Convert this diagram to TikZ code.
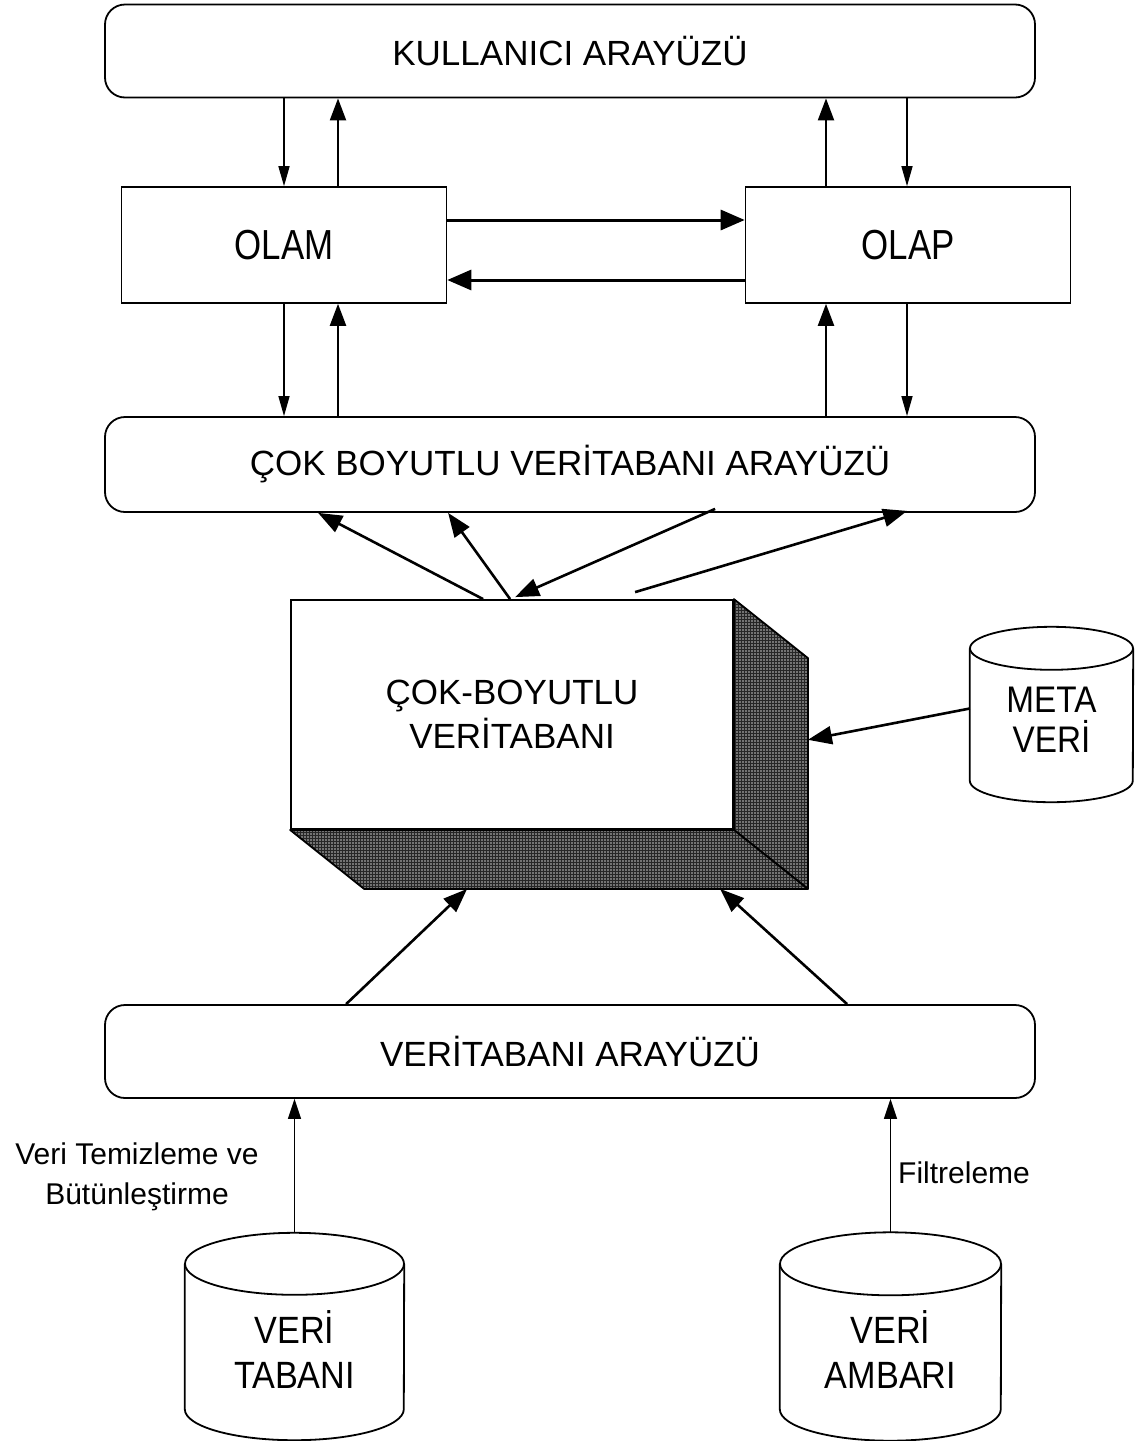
\documentclass[tikz,border=0pt]{standalone}
\usepackage{fontspec}
\setmainfont{Liberation Sans}
\newfontfamily\narrowsans[FakeStretch=0.83]{Liberation Sans}
\newfontfamily\semisans[FakeStretch=0.9]{Liberation Sans}
\usetikzlibrary{arrows.meta,patterns,calc}

% drum (cylinder) outline around a body node: #1 node, #2 x radius, #3 y radius
\newcommand\drum[3]{%
  \draw[line width=1.8pt] (#1.north west) -- (#1.south west)
    arc[start angle=180,end angle=360,x radius=#2,y radius=#3] -- (#1.north east);
  \draw[line width=1.8pt] (#1.north) ellipse [x radius=#2,y radius=#3];
}

\begin{document}
\begin{tikzpicture}[x=1pt,y=-1pt,
  panel/.style={draw,line width=1.8pt,rounded corners=20pt,minimum width=930pt,
    minimum height=93pt,inner sep=0pt,font=\fontsize{35}{42}\selectfont},
  unit/.style={draw,line width=1.6pt,minimum width=325pt,minimum height=116pt,
    inner sep=0pt,font=\narrowsans\fontsize{42}{50}\selectfont},
  body/.style={inner sep=0pt},
  cyltext/.style={inner sep=0pt,align=center,font=\semisans\fontsize{38}{45}\selectfont},
  note/.style={inner sep=0pt,align=center,font=\fontsize{30}{40}\selectfont},
  thinarr/.style={line width=1.4pt,-{Triangle[length=20pt,width=11pt]}},
  boldarr/.style={line width=2.2pt,-{Triangle[length=22pt,width=16pt]}},
  flowarr/.style={line width=3pt,-{Triangle[length=24pt,width=20pt]}},
  diagarr/.style={line width=2.6pt,-{Triangle[length=24pt,width=18pt]}},
  feedarr/.style={line width=1.5pt,-{Triangle[length=20pt,width=13pt]}},
  shadeface/.style={preaction={fill=black!55},
    preaction={pattern=grid,pattern color=black!85},
    draw,line width=1.8pt,line join=round}
]
\useasboundingbox (0,0) rectangle (1138,1441);
\fill[white] (0,0) rectangle (1138,1441);

% layers
\node[panel] (ui) at (570,51) {KULLANICI ARAYÜZÜ};
\node[unit] (olam) at (284,245) {OLAM};
\node[unit] (olap) at (908,245) {OLAP};
\node[panel,minimum height=95pt] (mdi) at (570,464.5) {ÇOK BOYUTLU VERİTABANI ARAYÜZÜ};
\node[panel] (dbi) at (570,1051.5) {VERİTABANI ARAYÜZÜ};

% multidimensional database block with extruded faces
\node[draw,line width=1.8pt,fill=white,minimum width=442pt,minimum height=229pt,
  inner sep=0pt,align=center,font=\fontsize{35}{44}\selectfont]
  (mdb) at (512,714.5) {ÇOK-BOYUTLU\\VERİTABANI};
\coordinate (rt) at ($(mdb.north east)+(74,59)$);
\coordinate (rb) at ($(mdb.south east)+(74,59)$);
\coordinate (lb) at ($(mdb.south west)+(74,59)$);
\path[shadeface] (mdb.north east) -- (rt) -- (rb) -- (mdb.south east) -- cycle;
\path[shadeface] (mdb.south west) -- (mdb.south east) -- (rb) -- (lb) -- cycle;

% data stores
\node[body,minimum width=163pt,minimum height=132pt] (meta) at (1051.5,714.5) {};
\drum{meta}{81.5pt}{21.5pt}
\node[cyltext,font=\semisans\fontsize{37}{40}\selectfont] (metatext) at ([yshift=-5.5pt]meta.center) {META\\VERİ};

\node[body,minimum width=219pt,minimum height=145pt] (vt) at (294.5,1336.5) {};
\drum{vt}{109.5pt}{31pt}
\node[cyltext] (vttext) at ([yshift=-13pt]vt.center) {VERİ\\TABANI};

\node[body,minimum width=221pt,minimum height=145pt] (va) at (890.5,1336.5) {};
\drum{va}{110.5pt}{31.5pt}
\node[cyltext] (vatext) at ([yshift=-13pt]va.center) {VERİ\\AMBARI};

% edge labels
\node[note] (clean) at (137,1177) {Veri Temizleme ve\\Bütünleştirme};
\node[note,anchor=west] (filt) at (898,1173) {Filtreleme};

% columns and rows for the straight connectors
\coordinate (cA) at (284,0);
\coordinate (cB) at (338,0);
\coordinate (cC) at (826,0);
\coordinate (cD) at (907,0);
\coordinate (r1) at (0,220);
\coordinate (r2) at (0,280);

% user interface <-> OLAM / OLAP
\draw[thinarr] (ui.south -| cA) -- (olam.north -| cA);
\draw[boldarr] (olam.north -| cB) -- (ui.south -| cB);
\draw[boldarr] (olap.north -| cC) -- (ui.south -| cC);
\draw[thinarr] (ui.south -| cD) -- (olap.north -| cD);

% OLAM <-> OLAP
\draw[flowarr] (olam.east |- r1) -- (olap.west |- r1);
\draw[flowarr] (olap.west |- r2) -- (olam.east |- r2);

% OLAM / OLAP <-> multidimensional interface
\draw[thinarr] (olam.south -| cA) -- (mdi.north -| cA);
\draw[boldarr] (mdi.north -| cB) -- (olam.south -| cB);
\draw[boldarr] (mdi.north -| cC) -- (olap.south -| cC);
\draw[thinarr] (olap.south -| cD) -- (mdi.north -| cD);

% multidimensional database <-> its interface
\draw[diagarr] ([xshift=193pt]mdb.north west) -- ([xshift=214pt]mdi.south west);
\draw[diagarr] ([xshift=220pt]mdb.north west) -- ([xshift=344pt]mdi.south west);
\draw[diagarr] ([xshift=611pt,yshift=4pt]mdi.south west) -- ([xshift=225pt,yshift=2pt]mdb.north west);
\draw[diagarr] ([xshift=345pt,yshift=7pt]mdb.north west) -- ([xshift=803pt,yshift=2pt]mdi.south west);

% metadata into the block
\draw[diagarr] ([yshift=6pt]meta.west) -- ($(rt)!0.354!(rb)$);

% database interface into the block
\draw[diagarr] ([xshift=242pt]dbi.north west) -- ([xshift=103pt]lb);
\draw[diagarr] ([xshift=743pt]dbi.north west) -- ([xshift=356pt]lb);

% sources into the database interface
\draw[feedarr] ([yshift=31pt]vt.north) -- (dbi.south -| vt.north);
\draw[feedarr] ([yshift=31.5pt]va.north) -- (dbi.south -| va.north);
\end{tikzpicture}
\end{document}
